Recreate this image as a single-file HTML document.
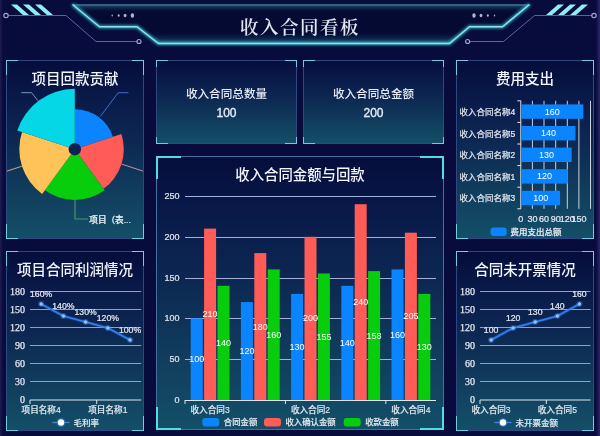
<!DOCTYPE html>
<html><head><meta charset="utf-8"><title>收入合同看板</title>
<style>
html,body{margin:0;padding:0;}
body{width:600px;height:436px;overflow:hidden;position:relative;background:#080c3c;font-family:"Liberation Sans", "Noto Sans CJK SC", sans-serif;}
.abs{position:absolute;}
.panel{position:absolute;box-sizing:border-box;border:1px solid #30487f;background:linear-gradient(180deg,#050d3c 0%,#0a1c4b 25%,#0d2b54 50%,#113e5d 75%,#134f68 100%);}
.panel.big{border-color:#4670a4;}
.acc{position:absolute;}
.ttl{position:absolute;text-align:center;color:#f2f5fb;line-height:20px;font-family:"Liberation Sans", "Noto Sans CJK SC", sans-serif;white-space:nowrap;}
.kt{position:absolute;text-align:center;color:#e8edf6;font-weight:500;font-size:11.6px;line-height:16px;font-family:"Liberation Sans", "Noto Sans CJK SC", sans-serif;}
.kv{position:absolute;text-align:center;color:#e8edf6;font-size:12px;line-height:16px;font-weight:normal;-webkit-text-stroke:0.35px #e8edf6;font-family:"Liberation Sans", "Noto Sans CJK SC", sans-serif;}
svg text{white-space:pre;}
</style></head><body>
<div class="abs" style="left:0;top:0;width:3px;height:436px;background:linear-gradient(90deg,#1f1c55,rgba(8,12,60,0))"></div>
<div class="abs" style="right:0;top:0;width:4px;height:436px;background:linear-gradient(270deg,#2d2868,rgba(8,12,60,0))"></div>
<svg class="abs" style="left:0;top:0" width="600" height="56" viewBox="0 0 600 56">
<defs>
<linearGradient id="hg" x1="0" y1="0" x2="0" y2="1">
<stop offset="0" stop-color="#2a5a80" stop-opacity="0.75"/>
<stop offset="0.08" stop-color="#1f4a70" stop-opacity="0.5"/>
<stop offset="0.2" stop-color="#0a1448" stop-opacity="0"/>
<stop offset="0.7" stop-color="#0a1448" stop-opacity="0"/>
<stop offset="0.88" stop-color="#16506e" stop-opacity="0.45"/>
<stop offset="1" stop-color="#1d7088" stop-opacity="0.75"/>
</linearGradient>
<filter id="glow" x="-5%" y="-50%" width="110%" height="200%"><feGaussianBlur stdDeviation="1.6"/></filter>
<linearGradient id="tg" x1="0" y1="0" x2="0" y2="1"><stop offset="0" stop-color="#ffffff"/><stop offset="1" stop-color="#c9d3e6"/></linearGradient>
</defs>
<polygon points="72.5,4.5 99.5,26.8 137,26.8 158.5,43.5 449.5,43.5 469.5,26.8 502.5,26.8 529.5,4.5" fill="#050a33"/>
<polygon points="72.5,4.5 99.5,26.8 137,26.8 158.5,43.5 449.5,43.5 469.5,26.8 502.5,26.8 529.5,4.5" fill="url(#hg)"/>
<line x1="72.5" y1="5" x2="529.5" y2="5" stroke="#3f7596" stroke-width="2" filter="url(#glow)" opacity="0.9"/>
<line x1="72.5" y1="5" x2="529.5" y2="5" stroke="#3d6e8e" stroke-width="1.3"/>
<polyline points="72.5,4.5 99.5,26.8 137,26.8 158.5,43.5 449.5,43.5 469.5,26.8 502.5,26.8 529.5,4.5" fill="none" stroke="#38c6d6" stroke-width="3" filter="url(#glow)" opacity="0.9"/>
<polyline points="72.5,4.5 99.5,26.8 137,26.8 158.5,43.5 449.5,43.5 469.5,26.8 502.5,26.8 529.5,4.5" fill="none" stroke="#86e6ea" stroke-width="1.4"/>
<polyline points="8.5,15.5 66,15.5 96,41.5 137,41.5" fill="none" stroke="#5b63a8" stroke-width="1"/>
<circle cx="6" cy="15.5" r="2.2" fill="none" stroke="#9aa3d0" stroke-width="1.2"/>
<circle cx="139" cy="41.5" r="2" fill="none" stroke="#9aa3d0" stroke-width="1.2"/>
<polyline points="591.8,15.5 534.5,15.5 503.5,41.5 469.6,41.5" fill="none" stroke="#5b63a8" stroke-width="1"/>
<circle cx="594" cy="15.5" r="2.2" fill="none" stroke="#9aa3d0" stroke-width="1.2"/>
<circle cx="467.6" cy="41.5" r="2" fill="none" stroke="#9aa3d0" stroke-width="1.2"/>
<polygon points="11,4.5 17,4.5 29,15 23,15" fill="#8eeef4"/>
<polygon points="588,4.5 582,4.5 570,15 576,15" fill="#8eeef4"/>
<polygon points="23,4.5 29,4.5 41,15 35,15" fill="#8eeef4"/>
<polygon points="576,4.5 570,4.5 558,15 564,15" fill="#8eeef4"/>
<polygon points="35,4.5 41,4.5 53,15 47,15" fill="#8eeef4"/>
<polygon points="564,4.5 558,4.5 546,15 552,15" fill="#8eeef4"/>
<ellipse cx="112.2" cy="15.5" rx="0.7" ry="0.9099999999999999" fill="#a9b6d6"/>
<ellipse cx="118.7" cy="15.5" rx="1.0" ry="1.3" fill="#a9b6d6"/>
<ellipse cx="125.1" cy="15.5" rx="1.4" ry="1.8199999999999998" fill="#a9b6d6"/>
<ellipse cx="132.4" cy="15.5" rx="1.7" ry="2.21" fill="#a9b6d6"/>
<ellipse cx="494.5" cy="15.5" rx="0.7" ry="0.9099999999999999" fill="#a9b6d6"/>
<ellipse cx="487.8" cy="15.5" rx="1.0" ry="1.3" fill="#a9b6d6"/>
<ellipse cx="481" cy="15.5" rx="1.4" ry="1.8199999999999998" fill="#a9b6d6"/>
<ellipse cx="474" cy="15.5" rx="1.7" ry="2.21" fill="#a9b6d6"/>
</svg>
<div class="abs" style="left:200px;top:15px;width:200px;text-align:center;font-family:&quot;Liberation Serif&quot;,&quot;Noto Serif CJK SC&quot;,serif;font-size:18.5px;letter-spacing:1.5px;font-weight:600;color:#dfe6f2;line-height:26px;">收入合同看板</div>
<div class="panel" style="left:6px;top:60px;width:138px;height:179px;"></div>
<div class="acc" style="left:6px;top:60px;width:11.7px;height:1.3px;background:#74cade"></div>
<div class="acc" style="left:6px;top:60px;width:1.3px;height:15.2px;background:#74cade"></div>
<div class="acc" style="left:132.3px;top:60px;width:11.7px;height:1.3px;background:#74cade"></div>
<div class="acc" style="left:142.7px;top:60px;width:1.3px;height:15.2px;background:#74cade"></div>
<div class="acc" style="left:6px;top:237.7px;width:11.7px;height:1.3px;background:#74cade"></div>
<div class="acc" style="left:6px;top:223.8px;width:1.3px;height:15.2px;background:#74cade"></div>
<div class="acc" style="left:132.3px;top:237.7px;width:11.7px;height:1.3px;background:#74cade"></div>
<div class="acc" style="left:142.7px;top:223.8px;width:1.3px;height:15.2px;background:#74cade"></div>
<div class="panel" style="left:6px;top:251px;width:138px;height:180px;"></div>
<div class="acc" style="left:6px;top:251px;width:11.7px;height:1.3px;background:#74cade"></div>
<div class="acc" style="left:6px;top:251px;width:1.3px;height:15.3px;background:#74cade"></div>
<div class="acc" style="left:132.3px;top:251px;width:11.7px;height:1.3px;background:#74cade"></div>
<div class="acc" style="left:142.7px;top:251px;width:1.3px;height:15.3px;background:#74cade"></div>
<div class="acc" style="left:6px;top:429.7px;width:11.7px;height:1.3px;background:#74cade"></div>
<div class="acc" style="left:6px;top:415.7px;width:1.3px;height:15.3px;background:#74cade"></div>
<div class="acc" style="left:132.3px;top:429.7px;width:11.7px;height:1.3px;background:#74cade"></div>
<div class="acc" style="left:142.7px;top:415.7px;width:1.3px;height:15.3px;background:#74cade"></div>
<div class="panel" style="left:156px;top:60px;width:141px;height:84px;"></div>
<div class="acc" style="left:156px;top:60px;width:12.0px;height:1.3px;background:#74cade"></div>
<div class="acc" style="left:156px;top:60px;width:1.3px;height:7.1px;background:#74cade"></div>
<div class="acc" style="left:285.0px;top:60px;width:12.0px;height:1.3px;background:#74cade"></div>
<div class="acc" style="left:295.7px;top:60px;width:1.3px;height:7.1px;background:#74cade"></div>
<div class="acc" style="left:156px;top:142.7px;width:12.0px;height:1.3px;background:#74cade"></div>
<div class="acc" style="left:156px;top:136.9px;width:1.3px;height:7.1px;background:#74cade"></div>
<div class="acc" style="left:285.0px;top:142.7px;width:12.0px;height:1.3px;background:#74cade"></div>
<div class="acc" style="left:295.7px;top:136.9px;width:1.3px;height:7.1px;background:#74cade"></div>
<div class="panel" style="left:303px;top:60px;width:141px;height:84px;"></div>
<div class="acc" style="left:303px;top:60px;width:12.0px;height:1.3px;background:#74cade"></div>
<div class="acc" style="left:303px;top:60px;width:1.3px;height:7.1px;background:#74cade"></div>
<div class="acc" style="left:432.0px;top:60px;width:12.0px;height:1.3px;background:#74cade"></div>
<div class="acc" style="left:442.7px;top:60px;width:1.3px;height:7.1px;background:#74cade"></div>
<div class="acc" style="left:303px;top:142.7px;width:12.0px;height:1.3px;background:#74cade"></div>
<div class="acc" style="left:303px;top:136.9px;width:1.3px;height:7.1px;background:#74cade"></div>
<div class="acc" style="left:432.0px;top:142.7px;width:12.0px;height:1.3px;background:#74cade"></div>
<div class="acc" style="left:442.7px;top:136.9px;width:1.3px;height:7.1px;background:#74cade"></div>
<div class="panel" style="left:456px;top:60px;width:138px;height:179px;"></div>
<div class="acc" style="left:456px;top:60px;width:11.7px;height:1.3px;background:#74cade"></div>
<div class="acc" style="left:456px;top:60px;width:1.3px;height:15.2px;background:#74cade"></div>
<div class="acc" style="left:582.3px;top:60px;width:11.7px;height:1.3px;background:#74cade"></div>
<div class="acc" style="left:592.7px;top:60px;width:1.3px;height:15.2px;background:#74cade"></div>
<div class="acc" style="left:456px;top:237.7px;width:11.7px;height:1.3px;background:#74cade"></div>
<div class="acc" style="left:456px;top:223.8px;width:1.3px;height:15.2px;background:#74cade"></div>
<div class="acc" style="left:582.3px;top:237.7px;width:11.7px;height:1.3px;background:#74cade"></div>
<div class="acc" style="left:592.7px;top:223.8px;width:1.3px;height:15.2px;background:#74cade"></div>
<div class="panel" style="left:456px;top:251px;width:138px;height:180px;"></div>
<div class="acc" style="left:456px;top:251px;width:11.7px;height:1.3px;background:#74cade"></div>
<div class="acc" style="left:456px;top:251px;width:1.3px;height:15.3px;background:#74cade"></div>
<div class="acc" style="left:582.3px;top:251px;width:11.7px;height:1.3px;background:#74cade"></div>
<div class="acc" style="left:592.7px;top:251px;width:1.3px;height:15.3px;background:#74cade"></div>
<div class="acc" style="left:456px;top:429.7px;width:11.7px;height:1.3px;background:#74cade"></div>
<div class="acc" style="left:456px;top:415.7px;width:1.3px;height:15.3px;background:#74cade"></div>
<div class="acc" style="left:582.3px;top:429.7px;width:11.7px;height:1.3px;background:#74cade"></div>
<div class="acc" style="left:592.7px;top:415.7px;width:1.3px;height:15.3px;background:#74cade"></div>
<div class="panel big" style="left:156px;top:156px;width:288px;height:274px;"></div>
<div class="acc" style="left:156px;top:156px;width:24.5px;height:2px;background:#52dde0"></div>
<div class="acc" style="left:156px;top:156px;width:2px;height:23.3px;background:#52dde0"></div>
<div class="acc" style="left:419.5px;top:156px;width:24.5px;height:2px;background:#52dde0"></div>
<div class="acc" style="left:442px;top:156px;width:2px;height:23.3px;background:#52dde0"></div>
<div class="acc" style="left:156px;top:428px;width:24.5px;height:2px;background:#52dde0"></div>
<div class="acc" style="left:156px;top:406.7px;width:2px;height:23.3px;background:#52dde0"></div>
<div class="acc" style="left:419.5px;top:428px;width:24.5px;height:2px;background:#52dde0"></div>
<div class="acc" style="left:442px;top:406.7px;width:2px;height:23.3px;background:#52dde0"></div>
<svg class="abs" style="left:0;top:0" width="600" height="436" viewBox="0 0 600 436">
<defs><clipPath id="c1"><rect x="7" y="61" width="136" height="177"/></clipPath></defs>
<g clip-path="url(#c1)">
<path d="M74.8,149.2 L74.80,109.20 A40,40 0 0 1 112.84,136.84 Z" fill="#0a84ff"/>
<path d="M74.8,149.2 L121.40,134.06 A49,49 0 0 1 103.60,188.84 Z" fill="#ff5b57"/>
<path d="M74.8,149.2 L104.66,190.30 A50.8,50.8 0 0 1 44.94,190.30 Z" fill="#08cd0c"/>
<path d="M74.8,149.2 L42.18,194.10 A55.5,55.5 0 0 1 22.02,132.05 Z" fill="#ffc35a"/>
<path d="M74.8,149.2 L17.26,130.50 A60.5,60.5 0 0 1 74.80,88.70 Z" fill="#05d7e6"/>
<circle cx="74.8" cy="149.2" r="6.2" fill="#0e2150"/>
<polyline points="100.3,116.5 118.2,92.7 128.5,92.7" fill="none" stroke="#3d6fd0" stroke-width="1"/>
<polyline points="121.6,164.1 150,173.4" fill="none" stroke="#c8939b" stroke-width="1"/>
<polyline points="75,199.5 75,219 88,219" fill="none" stroke="#3f9a6a" stroke-width="1.2"/>
<polyline points="21.7,166.3 -5,175" fill="none" stroke="#c8a898" stroke-width="1"/>
<polyline points="37.8,100.6 31.6,92.7 21.3,92.7" fill="none" stroke="#7f94b8" stroke-width="1"/>
<text x="89.3" y="220.3" font-size="8.6" fill="#e6ecf5" stroke="#e6ecf5" stroke-width="0.22" text-anchor="start" font-weight="500" font-family='"Liberation Sans", "Noto Sans CJK SC", sans-serif' dominant-baseline="central" >项目（表...</text>
</g></svg>
<div class="ttl" style="left:-25px;top:69.4px;width:200px;font-size:14.5px;font-weight:500;">项目回款贡献</div>
<svg class="abs" style="left:0;top:0" width="600" height="436" viewBox="0 0 600 436">
<text x="25" y="399.7" font-size="10" fill="#e2e8f0" stroke="#e2e8f0" stroke-width="0.25" text-anchor="end" font-weight="normal" font-family='"Liberation Serif", "Noto Serif CJK SC", serif' dominant-baseline="central" >0</text>
<line x1="30" y1="381.5" x2="141.2" y2="381.5" stroke="#88a2d0" stroke-width="1.1"/>
<text x="25" y="381.7" font-size="10" fill="#e2e8f0" stroke="#e2e8f0" stroke-width="0.25" text-anchor="end" font-weight="normal" font-family='"Liberation Serif", "Noto Serif CJK SC", serif' dominant-baseline="central" >30</text>
<line x1="30" y1="363.5" x2="141.2" y2="363.5" stroke="#88a2d0" stroke-width="1.1"/>
<text x="25" y="363.7" font-size="10" fill="#e2e8f0" stroke="#e2e8f0" stroke-width="0.25" text-anchor="end" font-weight="normal" font-family='"Liberation Serif", "Noto Serif CJK SC", serif' dominant-baseline="central" >60</text>
<line x1="30" y1="345.5" x2="141.2" y2="345.5" stroke="#88a2d0" stroke-width="1.1"/>
<text x="25" y="345.7" font-size="10" fill="#e2e8f0" stroke="#e2e8f0" stroke-width="0.25" text-anchor="end" font-weight="normal" font-family='"Liberation Serif", "Noto Serif CJK SC", serif' dominant-baseline="central" >90</text>
<line x1="30" y1="327.5" x2="141.2" y2="327.5" stroke="#88a2d0" stroke-width="1.1"/>
<text x="25" y="327.7" font-size="10" fill="#e2e8f0" stroke="#e2e8f0" stroke-width="0.25" text-anchor="end" font-weight="normal" font-family='"Liberation Serif", "Noto Serif CJK SC", serif' dominant-baseline="central" >120</text>
<line x1="30" y1="309.5" x2="141.2" y2="309.5" stroke="#88a2d0" stroke-width="1.1"/>
<text x="25" y="309.7" font-size="10" fill="#e2e8f0" stroke="#e2e8f0" stroke-width="0.25" text-anchor="end" font-weight="normal" font-family='"Liberation Serif", "Noto Serif CJK SC", serif' dominant-baseline="central" >150</text>
<line x1="30" y1="291.5" x2="141.2" y2="291.5" stroke="#88a2d0" stroke-width="1.1"/>
<text x="25" y="291.7" font-size="10" fill="#e2e8f0" stroke="#e2e8f0" stroke-width="0.25" text-anchor="end" font-weight="normal" font-family='"Liberation Serif", "Noto Serif CJK SC", serif' dominant-baseline="central" >180</text>
<line x1="30" y1="400" x2="141.2" y2="400" stroke="#dfe6ee" stroke-width="1.2"/>
<line x1="30.0" y1="400" x2="30.0" y2="404" stroke="#dfe6ee" stroke-width="1"/>
<line x1="96.72" y1="400" x2="96.72" y2="404" stroke="#dfe6ee" stroke-width="1"/>
<text x="41.12" y="410" font-size="8.6" fill="#dfe5ee" stroke="#dfe5ee" stroke-width="0.15" text-anchor="middle" font-weight="500" font-family='"Liberation Sans", "Noto Sans CJK SC", sans-serif' dominant-baseline="central" >项目名称4</text>
<text x="107.83999999999999" y="410" font-size="8.6" fill="#dfe5ee" stroke="#dfe5ee" stroke-width="0.15" text-anchor="middle" font-weight="500" font-family='"Liberation Sans", "Noto Sans CJK SC", sans-serif' dominant-baseline="central" >项目名称1</text>
<polyline points="41.1,304.0 63.4,316.0 85.6,322.0 107.8,328.0 130.1,340.0" fill="none" stroke="#2f7bf0" stroke-width="3.2" stroke-opacity="0.35"/>
<polyline points="41.1,304.0 63.4,316.0 85.6,322.0 107.8,328.0 130.1,340.0" fill="none" stroke="#3480f2" stroke-width="1.5"/>
<circle cx="41.1" cy="304.0" r="3" fill="#5aa0ff" fill-opacity="0.35"/>
<circle cx="41.1" cy="304.0" r="1.7" fill="#8cc6ff"/>
<text x="41.12" y="294.2" font-size="8.7" fill="#e4e9f2" stroke="#e4e9f2" stroke-width="0.22" text-anchor="middle" font-weight="500" font-family='"Liberation Sans", "Noto Sans CJK SC", sans-serif' dominant-baseline="central" >160%</text>
<circle cx="63.4" cy="316.0" r="3" fill="#5aa0ff" fill-opacity="0.35"/>
<circle cx="63.4" cy="316.0" r="1.7" fill="#8cc6ff"/>
<text x="63.36" y="306.2" font-size="8.7" fill="#e4e9f2" stroke="#e4e9f2" stroke-width="0.22" text-anchor="middle" font-weight="500" font-family='"Liberation Sans", "Noto Sans CJK SC", sans-serif' dominant-baseline="central" >140%</text>
<circle cx="85.6" cy="322.0" r="3" fill="#5aa0ff" fill-opacity="0.35"/>
<circle cx="85.6" cy="322.0" r="1.7" fill="#8cc6ff"/>
<text x="85.6" y="312.2" font-size="8.7" fill="#e4e9f2" stroke="#e4e9f2" stroke-width="0.22" text-anchor="middle" font-weight="500" font-family='"Liberation Sans", "Noto Sans CJK SC", sans-serif' dominant-baseline="central" >130%</text>
<circle cx="107.8" cy="328.0" r="3" fill="#5aa0ff" fill-opacity="0.35"/>
<circle cx="107.8" cy="328.0" r="1.7" fill="#8cc6ff"/>
<text x="107.83999999999999" y="318.2" font-size="8.7" fill="#e4e9f2" stroke="#e4e9f2" stroke-width="0.22" text-anchor="middle" font-weight="500" font-family='"Liberation Sans", "Noto Sans CJK SC", sans-serif' dominant-baseline="central" >120%</text>
<circle cx="130.1" cy="340.0" r="3" fill="#5aa0ff" fill-opacity="0.35"/>
<circle cx="130.1" cy="340.0" r="1.7" fill="#8cc6ff"/>
<text x="130.07999999999998" y="330.2" font-size="8.7" fill="#e4e9f2" stroke="#e4e9f2" stroke-width="0.22" text-anchor="middle" font-weight="500" font-family='"Liberation Sans", "Noto Sans CJK SC", sans-serif' dominant-baseline="central" >100%</text>
<line x1="52.5" y1="422.5" x2="69.5" y2="422.5" stroke="#3f86e8" stroke-width="1.3"/>
<circle cx="61.0" cy="422.5" r="4.6" fill="#3f86e8" fill-opacity="0.45"/>
<circle cx="61.0" cy="422.5" r="3.2" fill="#fbfdff"/>
<text x="73.5" y="422.6" font-size="8.5" fill="#e4e9f2" stroke="#e4e9f2" stroke-width="0.15" text-anchor="start" font-weight="500" font-family='"Liberation Sans", "Noto Sans CJK SC", sans-serif' dominant-baseline="central" >毛利率</text>
</svg>
<div class="ttl" style="left:-25px;top:260.4px;width:200px;font-size:14.5px;font-weight:500;">项目合同利润情况</div>
<svg class="abs" style="left:0;top:0" width="600" height="436" viewBox="0 0 600 436">
<text x="475" y="399.7" font-size="10" fill="#e2e8f0" stroke="#e2e8f0" stroke-width="0.25" text-anchor="end" font-weight="normal" font-family='"Liberation Serif", "Noto Serif CJK SC", serif' dominant-baseline="central" >0</text>
<line x1="480" y1="381.5" x2="590.5" y2="381.5" stroke="#88a2d0" stroke-width="1.1"/>
<text x="475" y="381.7" font-size="10" fill="#e2e8f0" stroke="#e2e8f0" stroke-width="0.25" text-anchor="end" font-weight="normal" font-family='"Liberation Serif", "Noto Serif CJK SC", serif' dominant-baseline="central" >30</text>
<line x1="480" y1="363.5" x2="590.5" y2="363.5" stroke="#88a2d0" stroke-width="1.1"/>
<text x="475" y="363.7" font-size="10" fill="#e2e8f0" stroke="#e2e8f0" stroke-width="0.25" text-anchor="end" font-weight="normal" font-family='"Liberation Serif", "Noto Serif CJK SC", serif' dominant-baseline="central" >60</text>
<line x1="480" y1="345.5" x2="590.5" y2="345.5" stroke="#88a2d0" stroke-width="1.1"/>
<text x="475" y="345.7" font-size="10" fill="#e2e8f0" stroke="#e2e8f0" stroke-width="0.25" text-anchor="end" font-weight="normal" font-family='"Liberation Serif", "Noto Serif CJK SC", serif' dominant-baseline="central" >90</text>
<line x1="480" y1="327.5" x2="590.5" y2="327.5" stroke="#88a2d0" stroke-width="1.1"/>
<text x="475" y="327.7" font-size="10" fill="#e2e8f0" stroke="#e2e8f0" stroke-width="0.25" text-anchor="end" font-weight="normal" font-family='"Liberation Serif", "Noto Serif CJK SC", serif' dominant-baseline="central" >120</text>
<line x1="480" y1="309.5" x2="590.5" y2="309.5" stroke="#88a2d0" stroke-width="1.1"/>
<text x="475" y="309.7" font-size="10" fill="#e2e8f0" stroke="#e2e8f0" stroke-width="0.25" text-anchor="end" font-weight="normal" font-family='"Liberation Serif", "Noto Serif CJK SC", serif' dominant-baseline="central" >150</text>
<line x1="480" y1="291.5" x2="590.5" y2="291.5" stroke="#88a2d0" stroke-width="1.1"/>
<text x="475" y="291.7" font-size="10" fill="#e2e8f0" stroke="#e2e8f0" stroke-width="0.25" text-anchor="end" font-weight="normal" font-family='"Liberation Serif", "Noto Serif CJK SC", serif' dominant-baseline="central" >180</text>
<line x1="480" y1="400" x2="590.5" y2="400" stroke="#dfe6ee" stroke-width="1.2"/>
<line x1="480.0" y1="400" x2="480.0" y2="404" stroke="#dfe6ee" stroke-width="1"/>
<line x1="546.3" y1="400" x2="546.3" y2="404" stroke="#dfe6ee" stroke-width="1"/>
<text x="491.05" y="410" font-size="8.6" fill="#dfe5ee" stroke="#dfe5ee" stroke-width="0.15" text-anchor="middle" font-weight="500" font-family='"Liberation Sans", "Noto Sans CJK SC", sans-serif' dominant-baseline="central" >收入合同3</text>
<text x="557.35" y="410" font-size="8.6" fill="#dfe5ee" stroke="#dfe5ee" stroke-width="0.15" text-anchor="middle" font-weight="500" font-family='"Liberation Sans", "Noto Sans CJK SC", sans-serif' dominant-baseline="central" >收入合同5</text>
<polyline points="491.1,340.0 513.1,328.0 535.2,322.0 557.4,316.0 579.5,304.0" fill="none" stroke="#2f7bf0" stroke-width="3.2" stroke-opacity="0.35"/>
<polyline points="491.1,340.0 513.1,328.0 535.2,322.0 557.4,316.0 579.5,304.0" fill="none" stroke="#3480f2" stroke-width="1.5"/>
<circle cx="491.1" cy="340.0" r="3" fill="#5aa0ff" fill-opacity="0.35"/>
<circle cx="491.1" cy="340.0" r="1.7" fill="#8cc6ff"/>
<text x="491.05" y="330.2" font-size="8.7" fill="#e4e9f2" stroke="#e4e9f2" stroke-width="0.22" text-anchor="middle" font-weight="500" font-family='"Liberation Sans", "Noto Sans CJK SC", sans-serif' dominant-baseline="central" >100</text>
<circle cx="513.1" cy="328.0" r="3" fill="#5aa0ff" fill-opacity="0.35"/>
<circle cx="513.1" cy="328.0" r="1.7" fill="#8cc6ff"/>
<text x="513.15" y="318.2" font-size="8.7" fill="#e4e9f2" stroke="#e4e9f2" stroke-width="0.22" text-anchor="middle" font-weight="500" font-family='"Liberation Sans", "Noto Sans CJK SC", sans-serif' dominant-baseline="central" >120</text>
<circle cx="535.2" cy="322.0" r="3" fill="#5aa0ff" fill-opacity="0.35"/>
<circle cx="535.2" cy="322.0" r="1.7" fill="#8cc6ff"/>
<text x="535.25" y="312.2" font-size="8.7" fill="#e4e9f2" stroke="#e4e9f2" stroke-width="0.22" text-anchor="middle" font-weight="500" font-family='"Liberation Sans", "Noto Sans CJK SC", sans-serif' dominant-baseline="central" >130</text>
<circle cx="557.4" cy="316.0" r="3" fill="#5aa0ff" fill-opacity="0.35"/>
<circle cx="557.4" cy="316.0" r="1.7" fill="#8cc6ff"/>
<text x="557.35" y="306.2" font-size="8.7" fill="#e4e9f2" stroke="#e4e9f2" stroke-width="0.22" text-anchor="middle" font-weight="500" font-family='"Liberation Sans", "Noto Sans CJK SC", sans-serif' dominant-baseline="central" >140</text>
<circle cx="579.5" cy="304.0" r="3" fill="#5aa0ff" fill-opacity="0.35"/>
<circle cx="579.5" cy="304.0" r="1.7" fill="#8cc6ff"/>
<text x="579.45" y="294.2" font-size="8.7" fill="#e4e9f2" stroke="#e4e9f2" stroke-width="0.22" text-anchor="middle" font-weight="500" font-family='"Liberation Sans", "Noto Sans CJK SC", sans-serif' dominant-baseline="central" >160</text>
<line x1="494.5" y1="422.5" x2="511.5" y2="422.5" stroke="#3f86e8" stroke-width="1.3"/>
<circle cx="503.0" cy="422.5" r="4.6" fill="#3f86e8" fill-opacity="0.45"/>
<circle cx="503.0" cy="422.5" r="3.2" fill="#fbfdff"/>
<text x="515.5" y="422.6" font-size="8.5" fill="#e4e9f2" stroke="#e4e9f2" stroke-width="0.15" text-anchor="start" font-weight="500" font-family='"Liberation Sans", "Noto Sans CJK SC", sans-serif' dominant-baseline="central" >未开票金额</text>
</svg>
<div class="ttl" style="left:425px;top:259.8px;width:200px;font-size:14.5px;font-weight:500;">合同未开票情况</div>
<div class="kt" style="left:166.5px;top:86px;width:120px;">收入合同总数量</div>
<div class="kv" style="left:166.5px;top:105px;width:120px;">100</div>
<div class="kt" style="left:313.5px;top:86px;width:120px;">收入合同总金额</div>
<div class="kv" style="left:313.5px;top:105px;width:120px;">200</div>
<svg class="abs" style="left:0;top:0" width="600" height="436" viewBox="0 0 600 436">
<text x="179.5" y="400.0" font-size="9" fill="#dfe5ee" stroke="#dfe5ee" stroke-width="0.22" text-anchor="end" font-weight="500" font-family='"Liberation Sans", "Noto Sans CJK SC", sans-serif' dominant-baseline="central" >0</text>
<line x1="185" y1="359.5" x2="436" y2="359.5" stroke="#a2b0da" stroke-width="1"/>
<text x="179.5" y="359.2" font-size="9" fill="#dfe5ee" stroke="#dfe5ee" stroke-width="0.22" text-anchor="end" font-weight="500" font-family='"Liberation Sans", "Noto Sans CJK SC", sans-serif' dominant-baseline="central" >50</text>
<line x1="185" y1="318.5" x2="436" y2="318.5" stroke="#a2b0da" stroke-width="1"/>
<text x="179.5" y="318.4" font-size="9" fill="#dfe5ee" stroke="#dfe5ee" stroke-width="0.22" text-anchor="end" font-weight="500" font-family='"Liberation Sans", "Noto Sans CJK SC", sans-serif' dominant-baseline="central" >100</text>
<line x1="185" y1="278.5" x2="436" y2="278.5" stroke="#a2b0da" stroke-width="1"/>
<text x="179.5" y="277.6" font-size="9" fill="#dfe5ee" stroke="#dfe5ee" stroke-width="0.22" text-anchor="end" font-weight="500" font-family='"Liberation Sans", "Noto Sans CJK SC", sans-serif' dominant-baseline="central" >150</text>
<line x1="185" y1="237.5" x2="436" y2="237.5" stroke="#a2b0da" stroke-width="1"/>
<text x="179.5" y="236.8" font-size="9" fill="#dfe5ee" stroke="#dfe5ee" stroke-width="0.22" text-anchor="end" font-weight="500" font-family='"Liberation Sans", "Noto Sans CJK SC", sans-serif' dominant-baseline="central" >200</text>
<line x1="185" y1="196.5" x2="436" y2="196.5" stroke="#a2b0da" stroke-width="1"/>
<text x="179.5" y="196.0" font-size="9" fill="#dfe5ee" stroke="#dfe5ee" stroke-width="0.22" text-anchor="end" font-weight="500" font-family='"Liberation Sans", "Noto Sans CJK SC", sans-serif' dominant-baseline="central" >250</text>
<rect x="190.7" y="318.4" width="12" height="81.6" fill="#0a84ff"/>
<rect x="204.1" y="228.6" width="12" height="171.4" fill="#ff5b57"/>
<rect x="217.5" y="285.8" width="12" height="114.2" fill="#08cd0c"/>
<text x="196.7" y="359.2" font-size="9" fill="#ffffff" text-anchor="middle" font-weight="normal" font-family='"Liberation Sans", "Noto Sans CJK SC", sans-serif' dominant-baseline="central" >100</text>
<text x="210.1" y="314.32" font-size="9" fill="#ffffff" text-anchor="middle" font-weight="normal" font-family='"Liberation Sans", "Noto Sans CJK SC", sans-serif' dominant-baseline="central" >210</text>
<text x="223.5" y="342.88" font-size="9" fill="#ffffff" text-anchor="middle" font-weight="normal" font-family='"Liberation Sans", "Noto Sans CJK SC", sans-serif' dominant-baseline="central" >140</text>
<rect x="240.9" y="302.1" width="12" height="97.9" fill="#0a84ff"/>
<rect x="254.3" y="253.1" width="12" height="146.9" fill="#ff5b57"/>
<rect x="267.7" y="269.4" width="12" height="130.6" fill="#08cd0c"/>
<text x="246.9" y="351.04" font-size="9" fill="#ffffff" text-anchor="middle" font-weight="normal" font-family='"Liberation Sans", "Noto Sans CJK SC", sans-serif' dominant-baseline="central" >120</text>
<text x="260.3" y="326.56" font-size="9" fill="#ffffff" text-anchor="middle" font-weight="normal" font-family='"Liberation Sans", "Noto Sans CJK SC", sans-serif' dominant-baseline="central" >180</text>
<text x="273.7" y="334.72" font-size="9" fill="#ffffff" text-anchor="middle" font-weight="normal" font-family='"Liberation Sans", "Noto Sans CJK SC", sans-serif' dominant-baseline="central" >160</text>
<rect x="291.1" y="293.9" width="12" height="106.1" fill="#0a84ff"/>
<rect x="304.5" y="236.8" width="12" height="163.2" fill="#ff5b57"/>
<rect x="317.9" y="273.5" width="12" height="126.5" fill="#08cd0c"/>
<text x="297.1" y="346.96" font-size="9" fill="#ffffff" text-anchor="middle" font-weight="normal" font-family='"Liberation Sans", "Noto Sans CJK SC", sans-serif' dominant-baseline="central" >130</text>
<text x="310.5" y="318.4" font-size="9" fill="#ffffff" text-anchor="middle" font-weight="normal" font-family='"Liberation Sans", "Noto Sans CJK SC", sans-serif' dominant-baseline="central" >200</text>
<text x="323.9" y="336.76" font-size="9" fill="#ffffff" text-anchor="middle" font-weight="normal" font-family='"Liberation Sans", "Noto Sans CJK SC", sans-serif' dominant-baseline="central" >155</text>
<rect x="341.3" y="285.8" width="12" height="114.2" fill="#0a84ff"/>
<rect x="354.7" y="204.2" width="12" height="195.8" fill="#ff5b57"/>
<rect x="368.1" y="271.1" width="12" height="128.9" fill="#08cd0c"/>
<text x="347.30000000000007" y="342.88" font-size="9" fill="#ffffff" text-anchor="middle" font-weight="normal" font-family='"Liberation Sans", "Noto Sans CJK SC", sans-serif' dominant-baseline="central" >140</text>
<text x="360.70000000000005" y="302.08000000000004" font-size="9" fill="#ffffff" text-anchor="middle" font-weight="normal" font-family='"Liberation Sans", "Noto Sans CJK SC", sans-serif' dominant-baseline="central" >240</text>
<text x="374.1" y="335.536" font-size="9" fill="#ffffff" text-anchor="middle" font-weight="normal" font-family='"Liberation Sans", "Noto Sans CJK SC", sans-serif' dominant-baseline="central" >158</text>
<rect x="391.5" y="269.4" width="12" height="130.6" fill="#0a84ff"/>
<rect x="404.9" y="232.7" width="12" height="167.3" fill="#ff5b57"/>
<rect x="418.3" y="293.9" width="12" height="106.1" fill="#08cd0c"/>
<text x="397.5" y="334.72" font-size="9" fill="#ffffff" text-anchor="middle" font-weight="normal" font-family='"Liberation Sans", "Noto Sans CJK SC", sans-serif' dominant-baseline="central" >160</text>
<text x="410.9" y="316.36" font-size="9" fill="#ffffff" text-anchor="middle" font-weight="normal" font-family='"Liberation Sans", "Noto Sans CJK SC", sans-serif' dominant-baseline="central" >205</text>
<text x="424.29999999999995" y="346.96" font-size="9" fill="#ffffff" text-anchor="middle" font-weight="normal" font-family='"Liberation Sans", "Noto Sans CJK SC", sans-serif' dominant-baseline="central" >130</text>
<line x1="185" y1="400.5" x2="436" y2="400.5" stroke="#dfe6ee" stroke-width="1.1"/>
<line x1="185.0" y1="400" x2="185.0" y2="404" stroke="#dfe6ee" stroke-width="1"/>
<line x1="285.4" y1="400" x2="285.4" y2="404" stroke="#dfe6ee" stroke-width="1"/>
<line x1="385.8" y1="400" x2="385.8" y2="404" stroke="#dfe6ee" stroke-width="1"/>
<text x="210.1" y="409.5" font-size="8.6" fill="#dfe5ee" stroke="#dfe5ee" stroke-width="0.15" text-anchor="middle" font-weight="500" font-family='"Liberation Sans", "Noto Sans CJK SC", sans-serif' dominant-baseline="central" >收入合同3</text>
<text x="310.5" y="409.5" font-size="8.6" fill="#dfe5ee" stroke="#dfe5ee" stroke-width="0.15" text-anchor="middle" font-weight="500" font-family='"Liberation Sans", "Noto Sans CJK SC", sans-serif' dominant-baseline="central" >收入合同2</text>
<text x="410.9" y="409.5" font-size="8.6" fill="#dfe5ee" stroke="#dfe5ee" stroke-width="0.15" text-anchor="middle" font-weight="500" font-family='"Liberation Sans", "Noto Sans CJK SC", sans-serif' dominant-baseline="central" >收入合同4</text>
<rect x="202.3" y="418" width="17" height="8.5" rx="3" fill="#0a84ff"/>
<text x="223.8" y="422.3" font-size="8.4" fill="#e4e9f2" stroke="#e4e9f2" stroke-width="0.15" text-anchor="start" font-weight="500" font-family='"Liberation Sans", "Noto Sans CJK SC", sans-serif' dominant-baseline="central" >合同金额</text>
<rect x="264" y="418" width="17" height="8.5" rx="3" fill="#ff5b57"/>
<text x="285.5" y="422.3" font-size="8.4" fill="#e4e9f2" stroke="#e4e9f2" stroke-width="0.15" text-anchor="start" font-weight="500" font-family='"Liberation Sans", "Noto Sans CJK SC", sans-serif' dominant-baseline="central" >收入确认金额</text>
<rect x="343.7" y="418" width="17" height="8.5" rx="3" fill="#08cd0c"/>
<text x="365.2" y="422.3" font-size="8.4" fill="#e4e9f2" stroke="#e4e9f2" stroke-width="0.15" text-anchor="start" font-weight="500" font-family='"Liberation Sans", "Noto Sans CJK SC", sans-serif' dominant-baseline="central" >收款金额</text>
</svg>
<div class="ttl" style="left:200px;top:164.7px;width:200px;font-size:14.4px;font-weight:500;">收入合同金额与回款</div>
<svg class="abs" style="left:0;top:0" width="600" height="436" viewBox="0 0 600 436">
<line x1="532.4" y1="100.8" x2="532.4" y2="208.8" stroke="#c9d2dd" stroke-width="1"/>
<line x1="544.0" y1="100.8" x2="544.0" y2="208.8" stroke="#c9d2dd" stroke-width="1"/>
<line x1="555.7" y1="100.8" x2="555.7" y2="208.8" stroke="#c9d2dd" stroke-width="1"/>
<line x1="567.3" y1="100.8" x2="567.3" y2="208.8" stroke="#c9d2dd" stroke-width="1"/>
<line x1="578.9" y1="100.8" x2="578.9" y2="208.8" stroke="#c9d2dd" stroke-width="1"/>
<line x1="590.5" y1="100.8" x2="590.5" y2="208.8" stroke="#c9d2dd" stroke-width="1"/>
<text x="520.8" y="219.2" font-size="9" fill="#e4e9f2" stroke="#e4e9f2" stroke-width="0.22" text-anchor="middle" font-weight="500" font-family='"Liberation Sans", "Noto Sans CJK SC", sans-serif' dominant-baseline="central" >0</text>
<text x="532.425" y="219.2" font-size="9" fill="#e4e9f2" stroke="#e4e9f2" stroke-width="0.22" text-anchor="middle" font-weight="500" font-family='"Liberation Sans", "Noto Sans CJK SC", sans-serif' dominant-baseline="central" >30</text>
<text x="544.05" y="219.2" font-size="9" fill="#e4e9f2" stroke="#e4e9f2" stroke-width="0.22" text-anchor="middle" font-weight="500" font-family='"Liberation Sans", "Noto Sans CJK SC", sans-serif' dominant-baseline="central" >60</text>
<text x="555.675" y="219.2" font-size="9" fill="#e4e9f2" stroke="#e4e9f2" stroke-width="0.22" text-anchor="middle" font-weight="500" font-family='"Liberation Sans", "Noto Sans CJK SC", sans-serif' dominant-baseline="central" >90</text>
<text x="567.3" y="219.2" font-size="9" fill="#e4e9f2" stroke="#e4e9f2" stroke-width="0.22" text-anchor="middle" font-weight="500" font-family='"Liberation Sans", "Noto Sans CJK SC", sans-serif' dominant-baseline="central" >120</text>
<text x="578.925" y="219.2" font-size="9" fill="#e4e9f2" stroke="#e4e9f2" stroke-width="0.22" text-anchor="middle" font-weight="500" font-family='"Liberation Sans", "Noto Sans CJK SC", sans-serif' dominant-baseline="central" >150</text>
<line x1="520.8" y1="100.8" x2="520.8" y2="208.8" stroke="#dfe6ee" stroke-width="1"/>
<line x1="517.3" y1="100.8" x2="520.8" y2="100.8" stroke="#dfe6ee" stroke-width="1"/>
<line x1="517.3" y1="122.4" x2="520.8" y2="122.4" stroke="#dfe6ee" stroke-width="1"/>
<line x1="517.3" y1="144.0" x2="520.8" y2="144.0" stroke="#dfe6ee" stroke-width="1"/>
<line x1="517.3" y1="165.6" x2="520.8" y2="165.6" stroke="#dfe6ee" stroke-width="1"/>
<line x1="517.3" y1="187.2" x2="520.8" y2="187.2" stroke="#dfe6ee" stroke-width="1"/>
<line x1="517.3" y1="208.8" x2="520.8" y2="208.8" stroke="#dfe6ee" stroke-width="1"/>
<rect x="521.3" y="104.4" width="62.0" height="14.4" fill="#0a84ff"/>
<text x="552.3" y="111.6" font-size="9" fill="#ffffff" text-anchor="middle" font-weight="normal" font-family='"Liberation Sans", "Noto Sans CJK SC", sans-serif' dominant-baseline="central" >160</text>
<text x="515.2" y="111.89999999999999" font-size="8.5" fill="#e4e9f2" stroke="#e4e9f2" stroke-width="0.22" text-anchor="end" font-weight="normal" font-family='"Liberation Sans", "Noto Sans CJK SC", sans-serif' dominant-baseline="central" >收入合同名称4</text>
<rect x="521.3" y="126.0" width="54.2" height="14.4" fill="#0a84ff"/>
<text x="548.425" y="133.2" font-size="9" fill="#ffffff" text-anchor="middle" font-weight="normal" font-family='"Liberation Sans", "Noto Sans CJK SC", sans-serif' dominant-baseline="central" >140</text>
<text x="515.2" y="133.5" font-size="8.5" fill="#e4e9f2" stroke="#e4e9f2" stroke-width="0.22" text-anchor="end" font-weight="normal" font-family='"Liberation Sans", "Noto Sans CJK SC", sans-serif' dominant-baseline="central" >收入合同名称5</text>
<rect x="521.3" y="147.6" width="50.4" height="14.4" fill="#0a84ff"/>
<text x="546.4875" y="154.8" font-size="9" fill="#ffffff" text-anchor="middle" font-weight="normal" font-family='"Liberation Sans", "Noto Sans CJK SC", sans-serif' dominant-baseline="central" >130</text>
<text x="515.2" y="155.10000000000002" font-size="8.5" fill="#e4e9f2" stroke="#e4e9f2" stroke-width="0.22" text-anchor="end" font-weight="normal" font-family='"Liberation Sans", "Noto Sans CJK SC", sans-serif' dominant-baseline="central" >收入合同名称2</text>
<rect x="521.3" y="169.2" width="46.5" height="14.4" fill="#0a84ff"/>
<text x="544.55" y="176.4" font-size="9" fill="#ffffff" text-anchor="middle" font-weight="normal" font-family='"Liberation Sans", "Noto Sans CJK SC", sans-serif' dominant-baseline="central" >120</text>
<text x="515.2" y="176.70000000000002" font-size="8.5" fill="#e4e9f2" stroke="#e4e9f2" stroke-width="0.22" text-anchor="end" font-weight="normal" font-family='"Liberation Sans", "Noto Sans CJK SC", sans-serif' dominant-baseline="central" >收入合同名称1</text>
<rect x="521.3" y="190.8" width="38.8" height="14.4" fill="#0a84ff"/>
<text x="540.675" y="198.0" font-size="9" fill="#ffffff" text-anchor="middle" font-weight="normal" font-family='"Liberation Sans", "Noto Sans CJK SC", sans-serif' dominant-baseline="central" >100</text>
<text x="515.2" y="198.3" font-size="8.5" fill="#e4e9f2" stroke="#e4e9f2" stroke-width="0.22" text-anchor="end" font-weight="normal" font-family='"Liberation Sans", "Noto Sans CJK SC", sans-serif' dominant-baseline="central" >收入合同名称3</text>
<rect x="490.5" y="227.6" width="16.2" height="8.4" rx="3" fill="#0a84ff"/>
<text x="510.5" y="232" font-size="8.5" fill="#e4e9f2" stroke="#e4e9f2" stroke-width="0.22" text-anchor="start" font-weight="500" font-family='"Liberation Sans", "Noto Sans CJK SC", sans-serif' dominant-baseline="central" >费用支出总额</text>
</svg>
<div class="ttl" style="left:425px;top:69.4px;width:200px;font-size:14.5px;font-weight:500;">费用支出</div>
</body></html>
